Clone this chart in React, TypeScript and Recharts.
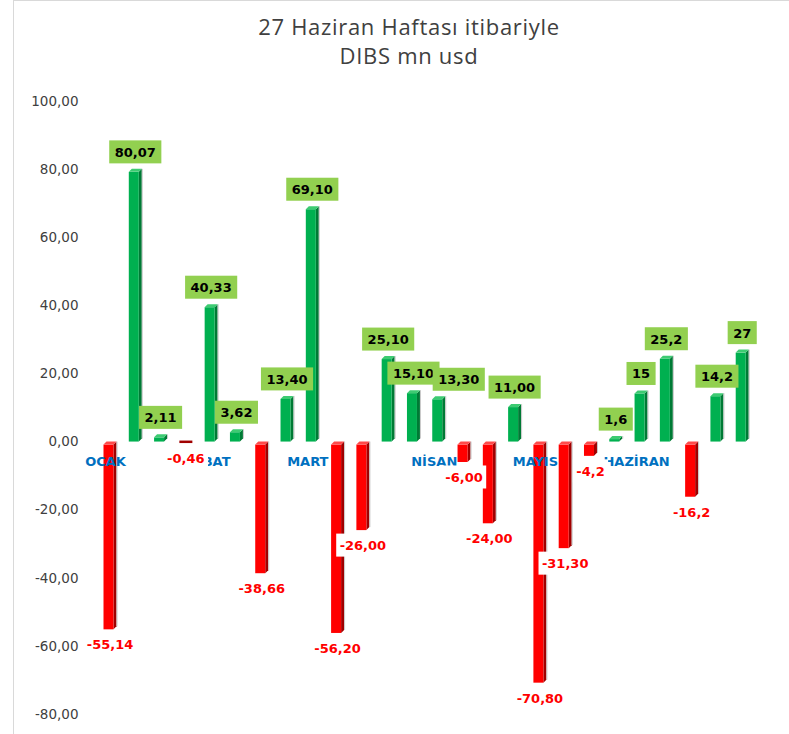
import React from "react";
import { BarChart, Bar, XAxis, YAxis, LabelList, Cell } from "recharts";

if (typeof document !== "undefined") document.body.style.margin = "0";

const weeks = [
  "1", "2", "3", "4", "5", "6", "7", "8", "9", "10", "11", "12", "13",
  "14", "15", "16", "17", "18", "19", "20", "21", "22", "23", "24", "25", "26",
];
const values = [
  -55.14, 80.07, 2.11, -0.46, 40.33, 3.62, -38.66, 13.4, 69.1, -56.2, -26.0, 25.1, 15.1,
  13.3, -6.0, -24.0, 11.0, -70.8, -31.3, -4.2, 1.6, 15, 25.2, -16.2, 14.2, 27,
];
const valueLabels = [
  "-55,14", "80,07", "2,11", "-0,46", "40,33", "3,62", "-38,66", "13,40", "69,10", "-56,20",
  "-26,00", "25,10", "15,10", "13,30", "-6,00", "-24,00", "11,00", "-70,80", "-31,30", "-4,2",
  "1,6", "15", "25,2", "-16,2", "14,2", "27",
];
const months = [
  "OCAK", "", "", "", "ŞUBAT", "", "", "", "MART", "", "", "", "",
  "NİSAN", "", "", "", "MAYIS", "", "", "", "HAZİRAN", "", "", "", "",
];
const yTicks = [-80, -60, -40, -20, 0, 20, 40, 60, 80, 100];

const data = weeks.map((w, i) => ({ week: w, value: values[i] }));

// label nudges (Excel moved this one sideways to dodge its neighbour)
const labelShift: Record<number, number> = { 13: 20 };

const TITLE_FONT = "'Open Sans', sans-serif";
const FONT = "'DejaVu Sans', Verdana, sans-serif";
const SIDE = 3;

// rough DejaVu Sans Bold advance widths, for sizing the label boxes
function textWidth(s: string, size: number) {
  let w = 0;
  for (const ch of s) {
    if (ch === ",") w += 0.38;
    else if (ch === "-") w += 0.479;
    else w += 0.696;
  }
  return w * size;
}

function Bar3D(props: any) {
  const { x, y, width, height, value } = props;
  const top = Math.min(y, y + height);
  const h = Math.abs(height);
  const bottom = top + h;
  const pos = value >= 0;
  const front = pos ? "#00B050" : "#FF0000";
  const side = pos ? "#007A35" : "#A00000";
  const cap = pos ? "#3DCB72" : "#FF4A4A";
  const fw = width - SIDE;
  if (h < 2) {
    return <rect x={x} y={top - 1} width={width} height={2.5} fill={side} />;
  }
  return (
    <g>
      <polygon
        points={`${x + fw},${top + SIDE} ${x + width},${top} ${x + width},${bottom - SIDE} ${x + fw},${bottom}`}
        fill={side}
      />
      <line x1={x + width + 0.5} y1={top} x2={x + width + 0.5} y2={bottom - SIDE} stroke="#C8C8C8" strokeWidth={1} />
      <rect x={x} y={top + SIDE} width={fw} height={Math.max(h - SIDE, 0)} fill={front} />
      <polygon
        points={`${x},${top + SIDE} ${x + SIDE},${top} ${x + width},${top} ${x + fw},${top + SIDE}`}
        fill={cap}
      />
    </g>
  );
}

function MonthLabel(props: any) {
  const { x, y, width, height, value, index } = props;
  const m = months[index];
  if (!m) return null;
  const zero = value >= 0 ? Math.max(y, y + height) : Math.min(y, y + height);
  const cx = x + (width - SIDE) / 2 - 3;
  return (
    <text
      x={cx}
      y={zero + 24}
      textAnchor="middle"
      fontFamily={FONT}
      fontWeight={700}
      fontSize={13}
      fill="#0070C0"
    >
      {m}
    </text>
  );
}

function ValueLabel(props: any) {
  const { x, y, width, height, value, index } = props;
  const text = valueLabels[index];
  const cx = x + width / 2 + (labelShift[index] || 0);
  const top = Math.min(y, y + height);
  const bottom = Math.max(y, y + height);
  if (value >= 0) {
    const tw = textWidth(text, 13) + 11;
    const cy = top - 17;
    return (
      <g>
        <rect x={cx - tw / 2} y={cy - 11.5} width={tw} height={23} fill="#92D050" />
        <text
          x={cx}
          y={cy + 5}
          textAnchor="middle"
          fontFamily={FONT}
          fontWeight={700}
          fontSize={13}
          fill="#000"
        >
          {text}
        </text>
      </g>
    );
  }
  const tw = textWidth(text, 13) + 6;
  const cy = bottom + 15;
  return (
    <g>
      <rect x={cx - tw / 2} y={cy - 11.5} width={tw} height={23} fill="#fff" />
      <text
        x={cx}
        y={cy + 5}
        textAnchor="middle"
        fontFamily={FONT}
        fontWeight={700}
        fontSize={13}
        fill="#FF0000"
      >
        {text}
      </text>
    </g>
  );
}

export default function App() {
  return (
    <div style={{ position: "relative", width: 789, height: 734, background: "#fff", overflow: "hidden" }}>
      <div
        style={{
          position: "absolute",
          left: 13,
          top: 0,
          width: 800,
          height: 800,
          borderLeft: "1px solid #D9D9D9",
          borderTop: "1px solid #D9D9D9",
        }}
      />
      <div
        style={{
          position: "absolute",
          left: 0,
          width: 818,
          top: 12,
          textAlign: "center",
          fontFamily: TITLE_FONT,
          fontSize: 22,
          letterSpacing: 0.7,
          lineHeight: "29px",
          color: "#404040",
        }}
      >
        27 Haziran Haftası itibariyle
        <br />
        DIBS mn usd
      </div>
      <div style={{ position: "absolute", left: 0, top: 0 }}>
        <BarChart
          width={789}
          height={734}
          data={data}
          margin={{ top: 101, right: 34, bottom: 20, left: 37.5 }}
          barSize={13}
        >
          <XAxis dataKey="week" hide />
          <YAxis
            type="number"
            domain={[-80, 100]}
            ticks={yTicks}
            interval={0}
            width={60}
            axisLine={false}
            tickLine={false}
            tickSize={0}
            tickMargin={19}
            tickFormatter={(v: number) => v.toFixed(2).replace(".", ",")}
            tick={{ fill: "#404040", fontSize: 13.5, fontFamily: FONT }}
          />
          <Bar dataKey="value" shape={<Bar3D />} isAnimationActive={false}>
            {data.map((d, i) => (
              <Cell key={i} fill={d.value >= 0 ? "#00B050" : "#FF0000"} />
            ))}
            <LabelList dataKey="value" content={<MonthLabel />} />
            <LabelList dataKey="value" content={<ValueLabel />} />
          </Bar>
        </BarChart>
      </div>
    </div>
  );
}
